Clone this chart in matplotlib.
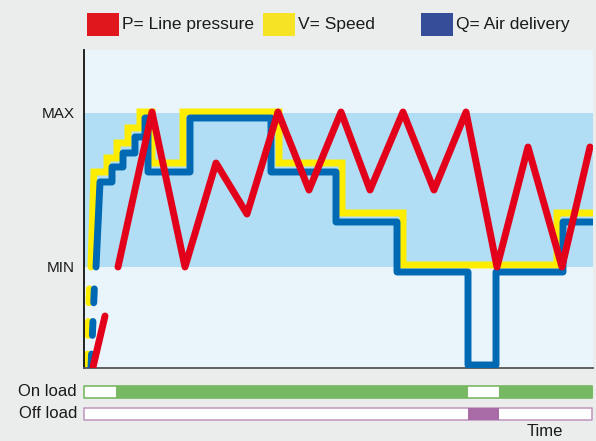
import matplotlib.pyplot as plt
from matplotlib.patches import Rectangle

plt.rcParams['font.family'] = ['Liberation Sans', 'DejaVu Sans']

# levels (0 = bottom axis, MIN = 101, MAX = 255)
MIN_LEVEL = 101
MAX_LEVEL = 255
T_END = 509
TOP = 318

# V = speed (yellow)
speed_t = [7, 10, 23, 23, 33, 33, 44, 44, 56, 56, 68, 68, 99, 99, 195, 195,
           258, 258, 319, 319, 473, 473, 509]
speed_v = [101, 196, 196, 210, 210, 225, 225, 240, 240, 256, 256, 205, 205, 256, 256, 205,
           205, 155, 155, 103, 103, 155, 155]
speed_start_t = [3, 6]
speed_start_v = [0, 96]

# Q = air delivery (blue)
air_t = [12, 16, 28, 28, 39, 39, 51, 51, 61, 61, 64, 64, 106, 106, 187, 187,
         252, 252, 313, 313, 384, 384, 412, 412, 479, 479, 509]
air_v = [101, 186, 186, 201, 201, 215, 215, 231, 231, 250, 250, 196, 196, 250, 250, 196,
         196, 146, 146, 96, 96, 3, 3, 96, 96, 146, 146]
air_start_t = [7, 11]
air_start_v = [0, 96]

# P = line pressure (red)
press_start_t = [9, 21]
press_start_v = [1, 52]
press_t = [34, 68, 101, 132, 163, 194, 225, 257, 286, 319, 350, 382, 413, 444, 478, 506]
press_v = [101, 256, 101, 205, 154, 256, 178, 256, 178, 256, 178, 256, 101, 221, 101, 221]

# load states along the time axis
on_load = [(32, 352), (415, 94)]
off_load = [(384, 31)]

RED = '#e3001b'
YELLOW = '#ffed00'
BLUE = '#0069b4'
GREEN = '#77b862'
PURPLE = '#a86ba5'

fig = plt.figure(figsize=(5.96, 4.41), dpi=100)
fig.patch.set_facecolor('#ebedec')
W, H = 596, 441

ax = fig.add_axes([84 / W, (H - 368) / H, 509 / W, 318 / H])
ax.set_facecolor('#eaf5fb')
ax.axhspan(MIN_LEVEL, MAX_LEVEL, color='#b1def4', lw=0, zorder=0)

lw = 5
ax.plot(speed_start_t, speed_start_v, color=YELLOW, lw=lw, dashes=(2.0, 2.7),
        dash_capstyle='round', zorder=2)
ax.plot(speed_t, speed_v, color=YELLOW, lw=lw, solid_joinstyle='miter',
        solid_capstyle='round', zorder=2)
ax.plot(air_start_t, air_start_v, color=BLUE, lw=lw, dashes=(2.0, 2.7),
        dash_capstyle='round', zorder=3)
ax.plot(air_t, air_v, color=BLUE, lw=lw, solid_joinstyle='round',
        solid_capstyle='round', zorder=3)
ax.plot(press_start_t, press_start_v, color=RED, lw=lw, solid_capstyle='round', zorder=4)
ax.plot(press_t, press_v, color=RED, lw=lw, solid_joinstyle='round',
        solid_capstyle='round', zorder=4)

ax.set_xlim(0, T_END)
ax.set_ylim(0, TOP)
ax.set_xticks([])
ax.set_yticks([MIN_LEVEL, MAX_LEVEL])
ax.set_yticklabels(['MIN', 'MAX'], fontsize=11, color='#1a1a1a')
ax.tick_params(axis='y', length=0, pad=7)
for s in ['top', 'right']:
    ax.spines[s].set_visible(False)
ax.spines['left'].set_color('#111111')
ax.spines['left'].set_linewidth(1.3)
ax.spines['bottom'].set_color('#555555')
ax.spines['bottom'].set_linewidth(1.3)

# on/off load bars
bx = fig.add_axes([84 / W, (H - 422) / H, 509 / W, 38 / H])
bx.set_xlim(0, T_END)
bx.set_ylim(0, 38)
bx.axis('off')
bx.broken_barh([(0, 508)], (24, 12), facecolors='white', edgecolors=GREEN, lw=1.2, clip_on=False)
bx.broken_barh(on_load, (24, 12), facecolors=GREEN, lw=0)
bx.broken_barh([(0, 508)], (2, 12), facecolors='white', edgecolors='#c29cc1', lw=1.2, clip_on=False)
bx.broken_barh(off_load, (2, 12), facecolors=PURPLE, lw=0)

fig.text(77 / W, 1 - 392 / H, 'On load', ha='right', va='center', fontsize=12, color='#1a1a1a')
fig.text(77 / W, 1 - 414 / H, 'Off load', ha='right', va='center', fontsize=12, color='#1a1a1a')
fig.text(545 / W, 1 - 432 / H, 'Time', ha='center', va='center', fontsize=12, color='#1a1a1a')

# legend
legend_items = [('P= Line pressure', '#e1171e', 87),
                ('V= Speed', '#f6e325', 263),
                ('Q= Air delivery', '#364e9a', 421)]
for label, col, x0 in legend_items:
    fig.patches.append(Rectangle((x0 / W, 1 - 36 / H), 32 / W, 23 / H,
                                 transform=fig.transFigure, facecolor=col, lw=0))
    fig.text((x0 + 35) / W, 1 - 24 / H, label, ha='left', va='center',
             fontsize=12.5, color='#1a1a1a')

fig.savefig('out.png', dpi=100, facecolor=fig.get_facecolor())
